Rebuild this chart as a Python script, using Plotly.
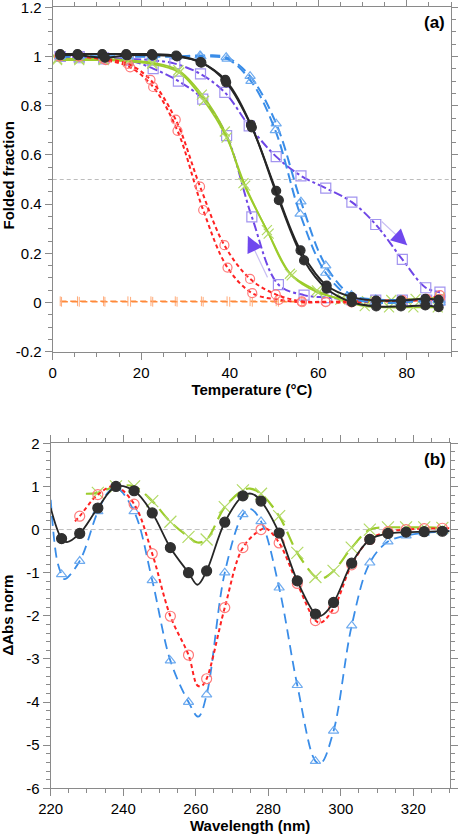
import plotly.graph_objects as go

# ---------------- Panel (a): thermal melting curves ----------------
temp_black_1 = [1.7, 5.6, 11.2, 16.6, 22.4, 27.9, 33.4, 39.0, 44.8, 50.5, 56.0, 61.9, 67.6, 73.1, 78.7, 84.2, 87.2]
frac_black_1 = [1.01, 1.01, 1.01, 1.01, 1.01, 1.004, 0.977, 0.905, 0.722, 0.454, 0.212, 0.069, 0.022, 0.008, 0.008, 0.015, 0.011]
temp_black_2 = [1.7, 5.8, 11.8, 16.8, 22.6, 28.1, 33.6, 39.2, 45.0, 51.1, 56.8, 61.9, 67.6, 73.1, 78.7, 84.2, 87.2]
frac_black_2 = [1.005, 1.005, 0.995, 1.005, 1.005, 1.0, 0.975, 0.895, 0.712, 0.416, 0.171, 0.056, 0.001, -0.016, -0.016, -0.012, -0.019]

temp_blue_1 = [1.7, 6.0, 11.5, 17.0, 22.5, 28.0, 33.3, 39.2, 44.6, 50.5, 56.1, 61.7, 67.5, 73.0, 78.7, 84.2, 87.5]
frac_blue_1 = [1.0, 1.0, 1.0, 1.0, 1.0, 1.0, 1.004, 0.997, 0.92, 0.727, 0.41, 0.15, 0.03, 0.012, 0.01, 0.012, 0.01]
temp_blue_2 = [1.7, 6.0, 11.5, 17.0, 22.5, 28.0, 33.5, 39.4, 44.8, 50.3, 55.9, 61.7, 67.5, 73.0, 78.7, 84.2, 87.5]
frac_blue_2 = [1.0, 1.0, 1.0, 1.0, 1.0, 1.0, 1.0, 0.99, 0.90, 0.70, 0.36, 0.12, 0.02, 0.0, 0.0, 0.005, 0.0]

temp_purple_heat = [1.7, 6.0, 11.5, 17.0, 22.5, 27.6, 33.4, 38.9, 44.4, 50.5, 56.1, 61.7, 67.6, 73.0, 79.0, 84.3, 87.5]
frac_purple_heat = [1.0, 1.0, 0.995, 0.99, 0.985, 0.971, 0.929, 0.854, 0.718, 0.593, 0.515, 0.465, 0.408, 0.317, 0.175, 0.06, 0.042]
temp_purple_cool = [1.7, 6.0, 11.5, 17.1, 22.7, 28.4, 33.9, 39.3, 45.0, 51.0, 56.8, 61.9, 67.5, 73.0, 79.0, 84.5, 87.5]
frac_purple_cool = [1.0, 0.995, 0.99, 0.985, 0.951, 0.90, 0.827, 0.678, 0.348, 0.073, 0.03, 0.02, 0.012, 0.01, 0.01, 0.01, 0.01]

temp_green_1 = [1.0, 6.0, 11.5, 17.0, 22.5, 28.4, 33.7, 38.9, 43.1, 48.4, 53.6, 59.7, 65.0, 70.5, 76.0, 81.5, 87.0]
frac_green_1 = [0.99, 0.99, 0.99, 0.985, 0.975, 0.944, 0.845, 0.695, 0.485, 0.294, 0.117, 0.049, 0.012, -0.015, -0.02, -0.02, -0.02]
temp_green_2 = [1.0, 6.0, 11.5, 17.0, 22.5, 28.6, 34.2, 39.3, 43.5, 48.8, 54.0, 60.0, 65.5, 71.0, 76.5, 82.0, 87.5]
frac_green_2 = [0.985, 0.985, 0.985, 0.98, 0.97, 0.935, 0.82, 0.67, 0.475, 0.28, 0.11, 0.04, 0.015, 0.005, 0.01, 0.015, 0.02]

temp_red_1 = [1.5, 6.0, 12.0, 17.5, 22.7, 28.2, 34.0, 39.5, 45.1, 51.1, 56.3, 61.7, 67.5, 73.0, 79.0, 84.5, 87.5]
frac_red_1 = [1.0, 1.0, 0.985, 0.956, 0.876, 0.698, 0.376, 0.142, 0.038, 0.011, 0.001, 0.001, 0.0, 0.003, 0.005, 0.01, 0.015]
temp_red_2 = [1.5, 6.0, 11.5, 17.0, 22.1, 27.8, 33.3, 38.8, 44.6, 50.4, 56.3, 61.7, 67.5, 73.0, 79.0, 84.5, 87.5]
frac_red_2 = [1.0, 1.0, 0.99, 0.97, 0.905, 0.743, 0.471, 0.233, 0.096, 0.033, 0.005, 0.003, 0.005, 0.007, 0.01, 0.015, 0.03]

temp_orange_1 = [1.7, 5.6, 11.5, 17.0, 22.2, 27.7, 33.6, 39.4, 44.6, 50.5, 56.3]
frac_orange_1 = [0.005, 0.005, 0.005, 0.005, 0.005, 0.005, 0.005, 0.005, 0.005, 0.005, 0.004]
temp_orange_2 = [2.0, 6.0, 11.8, 17.6, 22.6, 28.1, 34.0, 40.0, 45.1, 51.0, 56.8]
frac_orange_2 = [0.003, 0.003, 0.003, 0.003, 0.003, 0.003, 0.003, 0.003, 0.003, 0.003, 0.002]

# hysteresis arrows (tail T, tail F, tip T, tip F)
arrow_cool = [48.7, 0.096, 44.1, 0.27]
arrow_heat = [74.0, 0.335, 80.1, 0.233]

temp_ticks = [0, 20, 40, 60, 80]
frac_ticks = [-0.2, 0, 0.2, 0.4, 0.6, 0.8, 1, 1.2]
frac_tick_labels = ["-0.2", "0", "0.2", "0.4", "0.6", "0.8", "1", "1.2"]

# ---------------- Panel (b): difference spectra ----------------
marker_wl = [223, 228, 233, 238, 243, 248, 253, 258, 263, 268, 273, 278, 283, 288, 293, 298, 303, 308, 313, 318, 323, 328]

wl_black = [220, 223, 224.5, 228, 233, 238, 243, 248, 253, 258, 260.5, 263, 268, 273, 275.5, 278, 283, 288, 293, 294.5, 298, 303, 308, 313, 318, 323, 328, 330]
abs_black = [0.5, -0.21, -0.29, -0.09, 0.50, 1.0, 0.90, 0.385, -0.42, -1.0, -1.28, -0.96, 0.17, 0.78, 0.83, 0.66, -0.08, -1.19, -1.96, -2.0, -1.69, -0.78, -0.23, -0.09, -0.06, -0.05, -0.04, -0.04]

wl_red = [226.7, 228, 233, 237.7, 243, 248, 253, 258, 260.5, 261.7, 263, 268, 273, 278, 279.5, 283, 288, 293, 294.5, 298, 303, 308, 313, 318, 323, 328, 330]
abs_red = [0.19, 0.31, 0.81, 1.01, 0.59, -0.56, -2.01, -2.91, -3.62, -3.62, -3.46, -1.81, -0.42, 0.0, 0.02, -0.31, -1.25, -2.11, -2.16, -1.83, -0.82, -0.23, -0.05, 0.0, 0.02, 0.03, 0.03]

wl_blue = [220, 221.7, 223, 223.8, 228, 233, 236, 238, 243, 248, 253, 258, 260.7, 263, 268, 273, 275, 278, 283, 288, 293, 294.5, 298, 303, 308, 313, 318, 323, 328, 330]
abs_blue = [0.69, -0.69, -1.04, -1.15, -0.73, 0.42, 0.88, 0.98, 0.42, -1.18, -3.04, -4.0, -4.34, -3.83, -1.0, 0.35, 0.48, 0.19, -1.35, -3.61, -5.37, -5.42, -4.67, -2.23, -0.77, -0.28, -0.14, -0.08, -0.05, -0.03]

wl_green = [229.7, 233, 238, 243, 248, 253, 258, 260.5, 263, 268, 273, 275, 278, 283, 288, 293, 294.5, 298, 303, 308, 313, 318, 323, 328, 330]
abs_green = [0.83, 0.85, 1.0, 1.0, 0.66, 0.18, -0.17, -0.3, -0.23, 0.52, 0.91, 0.95, 0.83, 0.31, -0.54, -1.1, -1.15, -0.96, -0.42, 0.0, 0.05, 0.05, 0.05, 0.04, 0.04]

wl_ticks = [220, 240, 260, 280, 300, 320]
abs_ticks = [-6, -5, -4, -3, -2, -1, 0, 1, 2]
abs_tick_labels = ["-6", "-5", "-4", "-3", "-2", "-1", "0", "1", "2"]

# ---------------- styles ----------------
FONT = "Liberation Sans, Arial, sans-serif"
C_BLACK = "#262626"
C_BLUE = "#3a8de8"
C_BLUE_M = "#6fabef"
C_PURPLE = "#6f47e6"
C_PURPLE_M = "#a294ef"
C_GREEN = "#9ccc2c"
C_GREEN_M = "#b2da66"
C_RED = "#ff2222"
C_RED_M = "#ff7a7a"
C_ORANGE = "#ff8a3a"
C_AXIS = "#8a8a8a"

fig = go.Figure()


def curve(x, y, xa, ya, color, width, dash, msym, msize, mcolor, mline=1.2, shape="spline"):
    fig.add_trace(go.Scatter(
        x=x, y=y, xaxis=xa, yaxis=ya, mode="lines+markers",
        line=dict(color=color, width=width, dash=dash, shape=shape, smoothing=1.0),
        marker=dict(symbol=msym, size=msize, color=mcolor,
                    line=dict(color=mcolor, width=mline)),
        showlegend=False, hoverinfo="x+y"))


# reference line at 0.5 (panel a)
fig.add_trace(go.Scatter(x=[0, 90], y=[0.5, 0.5], xaxis="x", yaxis="y", mode="lines",
                         line=dict(color="#bdbdbd", width=1, dash="4px,3px"),
                         showlegend=False, hoverinfo="skip"))

curve(temp_orange_1, frac_orange_1, "x", "y", C_ORANGE, 1.3, "6px,4px", "line-ns-open", 7, "#ffab7a", 1)
curve(temp_orange_2, frac_orange_2, "x", "y", C_ORANGE, 1.3, "6px,4px", "line-ns-open", 7, "#ffab7a", 1)
curve(temp_purple_heat, frac_purple_heat, "x", "y", C_PURPLE, 2, "dashdot", "square-open", 10, C_PURPLE_M)
curve(temp_purple_cool, frac_purple_cool, "x", "y", C_PURPLE, 2, "dashdot", "square-open", 10, C_PURPLE_M)
curve(temp_green_1, frac_green_1, "x", "y", C_GREEN, 1.8, "solid", "x-thin-open", 10, C_GREEN_M)
curve(temp_green_2, frac_green_2, "x", "y", C_GREEN, 1.8, "solid", "x-thin-open", 10, C_GREEN_M)
curve(temp_red_1, frac_red_1, "x", "y", C_RED, 2, "4px,3px", "circle-open", 9, C_RED_M)
curve(temp_red_2, frac_red_2, "x", "y", C_RED, 2, "4px,3px", "circle-open", 9, C_RED_M)
curve(temp_blue_1, frac_blue_1, "x", "y", C_BLUE, 2, "10px,5px", "triangle-up-open", 9, C_BLUE_M)
curve(temp_blue_2, frac_blue_2, "x", "y", C_BLUE, 2, "10px,5px", "triangle-up-open", 9, C_BLUE_M)
curve(temp_black_1, frac_black_1, "x", "y", C_BLACK, 2, "solid", "circle", 9, "#303030")
curve(temp_black_2, frac_black_2, "x", "y", C_BLACK, 2, "solid", "circle", 9, "#303030")

# panel b
fig.add_trace(go.Scatter(x=[220, 330], y=[0, 0], xaxis="x2", yaxis="y2", mode="lines",
                         line=dict(color="#bdbdbd", width=1, dash="5px,3px"),
                         showlegend=False, hoverinfo="skip"))


def spectrum(wl, val, color, width, dash, msym, msize, mcolor, mline=1.2):
    fig.add_trace(go.Scatter(x=wl, y=val, xaxis="x2", yaxis="y2", mode="lines",
                             line=dict(color=color, width=width, dash=dash, shape="spline", smoothing=1.0),
                             showlegend=False, hoverinfo="x+y"))
    mx = [w for w in wl if w in marker_wl]
    my = [v for w, v in zip(wl, val) if w in marker_wl]
    fig.add_trace(go.Scatter(x=mx, y=my, xaxis="x2", yaxis="y2", mode="markers",
                             marker=dict(symbol=msym, size=msize, color=mcolor,
                                         line=dict(color=mcolor, width=mline)),
                             showlegend=False, hoverinfo="x+y"))


spectrum(wl_green, abs_green, C_GREEN, 2.2, "14px,7px", "x-thin-open", 12, C_GREEN_M)
spectrum(wl_blue, abs_blue, C_BLUE, 1.8, "10px,6px", "triangle-up-open", 9, C_BLUE_M)
spectrum(wl_red, abs_red, C_RED, 2, "4px,3px", "circle-open", 10, C_RED_M)
spectrum(wl_black, abs_black, C_BLACK, 1.8, "solid", "circle", 10, "#303030")

# arrows
for (t0, f0, t1, f1) in (arrow_cool, arrow_heat):
    fig.add_annotation(x=t1, y=f1, ax=t0, ay=f0, xref="x", yref="y", axref="x", ayref="y",
                       showarrow=True, arrowhead=0, arrowwidth=1.2, arrowcolor="#c9bff3", text="")
    fig.add_annotation(x=t1, y=f1, ax=t1 + (t0 - t1) * 0.3, ay=f1 + (f0 - f1) * 0.3,
                       xref="x", yref="y", axref="x", ayref="y",
                       showarrow=True, arrowhead=2, arrowsize=1.6, arrowwidth=2,
                       arrowcolor="#7048ee", text="")

W, H = 458, 835


def px_x(p):
    return p / W


def px_y(p):
    return (H - p) / H


title_font = dict(family=FONT, size=15, color="black")

fig.add_annotation(x=px_x(447), y=px_y(22), xref="paper", yref="paper", text="<b>(a)</b>",
                   showarrow=False, xanchor="right", yanchor="middle",
                   font=dict(family=FONT, size=17, color="black"))
fig.add_annotation(x=px_x(448), y=px_y(459), xref="paper", yref="paper", text="<b>(b)</b>",
                   showarrow=False, xanchor="right", yanchor="middle",
                   font=dict(family=FONT, size=17, color="black"))
# y-axis titles
fig.add_annotation(x=px_x(7.5), y=px_y(176), xref="paper", yref="paper",
                   text="<b>Folded fraction</b>", textangle=-90, showarrow=False,
                   xanchor="center", yanchor="middle", font=title_font)
fig.add_annotation(x=px_x(7.5), y=px_y(615), xref="paper", yref="paper",
                   text="<b>ΔAbs norm</b>", textangle=-90, showarrow=False,
                   xanchor="center", yanchor="middle", font=title_font)

axis_common = dict(showline=True, linecolor=C_AXIS, linewidth=1, mirror="ticks",
                   ticks="outside", ticklen=7, tickcolor=C_AXIS, tickwidth=1,
                   showgrid=False, zeroline=False, automargin=False,
                   ticklabeloverflow="allow",
                   tickfont=dict(family=FONT, size=15, color="black"))

fig.update_layout(
    width=W, height=H, plot_bgcolor="white", paper_bgcolor="white",
    margin=dict(l=0, r=0, t=0, b=0),
    xaxis=dict(domain=[px_x(52.7), px_x(451)], anchor="y", range=[0, 90],
               tickvals=temp_ticks, minor=dict(dtick=5, ticklen=4, tickcolor=C_AXIS, ticks="outside"),
               title=dict(text="<b>Temperature (°C)</b>", font=title_font, standoff=3),
               **axis_common),
    yaxis=dict(domain=[px_y(351.7), px_y(7.3)], anchor="x", range=[-0.2, 1.2],
               tickvals=frac_ticks, ticktext=frac_tick_labels,
               minor=dict(dtick=0.05, ticklen=4, tickcolor=C_AXIS, ticks="outside"),
               **axis_common),
    xaxis2=dict(domain=[px_x(50.7), px_x(449.6)], anchor="y2", range=[220, 330],
                tickvals=wl_ticks, minor=dict(dtick=5, ticklen=4, tickcolor=C_AXIS, ticks="outside"),
                title=dict(text="<b>Wavelength (nm)</b>", font=title_font, standoff=3),
                **axis_common),
    yaxis2=dict(domain=[px_y(788.3), px_y(443.3)], anchor="x2", range=[-6, 2],
                tickvals=abs_ticks, ticktext=abs_tick_labels,
                minor=dict(dtick=0.2, ticklen=4, tickcolor=C_AXIS, ticks="outside"),
                **axis_common),
)

# remove the default page margin so the figure sits at the window's top-left corner
fig.write_html("out.html", config={"displayModeBar": False},
               post_script="document.body.style.margin='0';document.body.style.overflow='hidden';")
